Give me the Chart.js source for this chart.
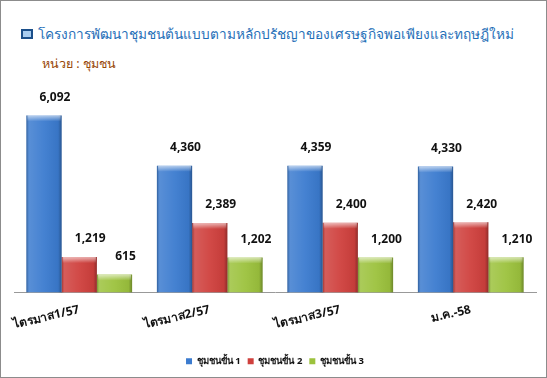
<!DOCTYPE html>
<html>
<head>
<meta charset="utf-8">
<script src="https://cdn.jsdelivr.net/npm/chart.js@4"></script>
<style>
    html, body { margin: 0; padding: 0; background: #fff; }
    #box {
        position: relative;
        width: 545px;
        height: 376px;
        border: 1px solid #8c8c8c;
        overflow: hidden;
        font-family: Tahoma, "Noto Sans", "DejaVu Sans", sans-serif;
    }
    #cuadro {
        position: absolute;
        left: 20px;
        top: 28px;
        width: 8px;
        height: 6px;
        border: 2px solid #1b4f8a;
        background: #a9cdf0;
    }
    #titulo {
        position: absolute;
        left: 37px;
        top: 24px;
        color: #1f6fb8;
        font-size: 14px;
        line-height: 18px;
        white-space: nowrap;
    }
    #unidad {
        position: absolute;
        left: 41px;
        top: 55px;
        color: #984807;
        font-size: 12.5px;
        font-weight: normal;
        line-height: 16px;
        white-space: nowrap;
    }
    #grafica { position: absolute; left: 0; top: 0; }
</style>
</head>
<body>
<div id="box">
    <div id="cuadro"></div>
    <div id="titulo">โครงการพัฒนาชุมชนต้นแบบตามหลักปรัชญาของเศรษฐกิจพอเพียงและทฤษฎีใหม่</div>
    <div id="unidad">หน่วย : ชุมชน</div>
    <canvas id="grafica" width="545" height="376"></canvas>
</div>
<script>
// Datos del gráfico
const periodos = ['ไตรมาส1/57', 'ไตรมาส2/57', 'ไตรมาส3/57', 'ม.ค.-58'];
const nombresSerie = ['ชุมชนขั้น 1', 'ชุมชนขั้น 2', 'ชุมชนขั้น 3'];
const nivel1 = [6092, 4360, 4359, 4330];
const nivel2 = [1219, 2389, 2400, 2420];
const nivel3 = [615, 1202, 1200, 1210];

const colores = ['#3b7bcf', '#cf403d', '#9cc23d'];
const fuente = 'Tahoma, "Noto Sans", "DejaVu Sans", sans-serif';

// Ajustar el título al ancho del original (~479 px)
const tituloElem = document.getElementById('titulo');
const ancho = tituloElem.getBoundingClientRect().width;
if (ancho > 0) {
    tituloElem.style.fontSize = (14 * 479 / ancho).toFixed(2) + 'px';
}

// Efecto de bisel tipo Excel sobre cada barra
const biselBarras = {
    id: 'biselBarras',
    afterDatasetsDraw(chart) {
        const ctx = chart.ctx;
        chart.data.datasets.forEach((ds, i) => {
            const meta = chart.getDatasetMeta(i);
            meta.data.forEach(bar => {
                const x0 = bar.x - bar.width / 2;
                const w = bar.width;
                const top = bar.y;
                const h = bar.base - bar.y;
                ctx.save();
                let g = ctx.createLinearGradient(x0, 0, x0 + w, 0);
                g.addColorStop(0, 'rgba(0,0,0,0.25)');
                g.addColorStop(0.08, 'rgba(255,255,255,0.15)');
                g.addColorStop(0.5, 'rgba(255,255,255,0.05)');
                g.addColorStop(0.9, 'rgba(0,0,0,0.05)');
                g.addColorStop(1, 'rgba(0,0,0,0.3)');
                ctx.fillStyle = g;
                ctx.fillRect(x0, top, w, h);
                let gt = ctx.createLinearGradient(0, top, 0, top + 6);
                gt.addColorStop(0, 'rgba(255,255,255,0.6)');
                gt.addColorStop(1, 'rgba(255,255,255,0)');
                ctx.fillStyle = gt;
                ctx.fillRect(x0 + 1, top, w - 2, Math.min(6, h));
                ctx.restore();
            });
        });
    }
};

// Etiquetas con valores encima de las barras
const etiquetasValor = {
    id: 'etiquetasValor',
    afterDatasetsDraw(chart) {
        const ctx = chart.ctx;
        ctx.save();
        ctx.font = 'bold 12px ' + fuente;
        ctx.fillStyle = '#111';
        ctx.textAlign = 'center';
        ctx.textBaseline = 'middle';
        chart.data.datasets.forEach((ds, i) => {
            const meta = chart.getDatasetMeta(i);
            meta.data.forEach((bar, j) => {
                ctx.fillText(ds.data[j].toLocaleString('en-US'), bar.x + 11, bar.y - 18);
            });
        });
        ctx.restore();
    }
};

const ctx = document.getElementById('grafica').getContext('2d');
new Chart(ctx, {
    type: 'bar',
    data: {
        labels: periodos,
        datasets: [
            { label: nombresSerie[0], data: nivel1, backgroundColor: colores[0] },
            { label: nombresSerie[1], data: nivel2, backgroundColor: colores[1] },
            { label: nombresSerie[2], data: nivel3, backgroundColor: colores[2] }
        ]
    },
    options: {
        responsive: false,
        animation: false,
        datasets: {
            bar: { categoryPercentage: 0.81, barPercentage: 1.0 }
        },
        layout: { padding: { top: 88, left: 13, right: 10, bottom: 1 } },
        plugins: {
            legend: {
                position: 'bottom',
                labels: {
                    boxWidth: 6,
                    boxHeight: 6,
                    padding: 7,
                    color: '#111',
                    font: { family: fuente, size: 9.5, weight: 'bold' }
                }
            },
            tooltip: { enabled: false }
        },
        scales: {
            x: {
                grid: { display: false, drawTicks: false },
                border: { display: true, color: '#999' },
                ticks: {
                    minRotation: 13,
                    maxRotation: 13,
                    padding: 10,
                    color: '#111',
                    font: { family: fuente, size: 12, weight: 'bold' }
                },
                afterFit(scale) { scale.height = 57; }
            },
            y: {
                display: false,
                min: 0,
                max: 7000
            }
        }
    },
    plugins: [biselBarras, etiquetasValor]
});
</script>
</body>
</html>
